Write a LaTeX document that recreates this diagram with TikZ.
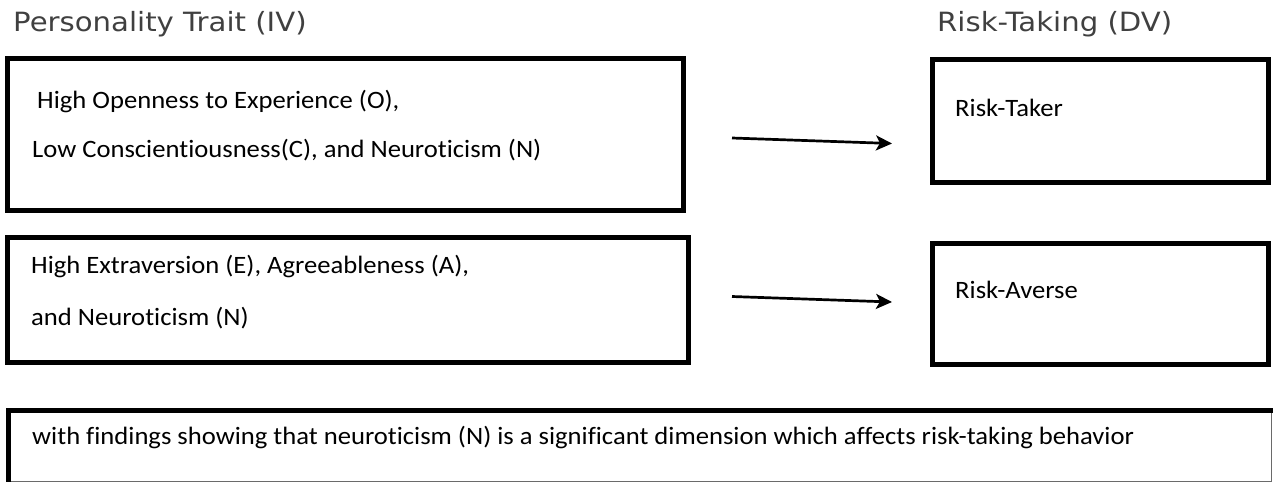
\documentclass[tikz,border=0pt]{standalone}
\usepackage{fontspec}
\setmainfont{Carlito}[Ligatures=CommonOff]
\newfontfamily\titlefont[FakeStretch=1.1]{DejaVu Sans}
\newfontfamily\bodyfont[FakeStretch=1.065, Ligatures=CommonOff]{Carlito}
\usetikzlibrary{arrows.meta}
\definecolor{titlegray}{HTML}{404040}
\definecolor{edgegray}{HTML}{6A6A6A}
\tikzset{
  box/.style={draw=black, line width=5pt, rectangle, inner sep=0pt, outer sep=0pt},
  txt/.style={anchor=base west, inner sep=0pt, font=\bodyfont\fontsize{25}{30}\selectfont, text=black},
  ttl/.style={anchor=base west, inner sep=0pt, font=\titlefont\fontsize{26.5}{31}\selectfont, text=titlegray},
  link/.style={line width=2.7pt, -{Stealth[length=16pt, width=15pt, inset=4pt]}},
}
\begin{document}
\begin{tikzpicture}[x=1pt,y=-1pt]
\useasboundingbox (0,0) rectangle (1273,483);
% titles
\node[ttl] (t1) at (13,31) {Personality Trait (IV)};
\node[ttl] (t2) at (937,31) {Risk-Taking (DV)};
% boxes
\node[box, minimum width=676pt, minimum height=152pt] (b1) at (345.5,134.5) {};
\node[box, minimum width=336pt, minimum height=123pt] (rt) at (1100.5,121) {};
\node[box, minimum width=681pt, minimum height=125pt] (b2) at (348,300) {};
\node[box, minimum width=336pt, minimum height=121pt] (ra) at (1100.5,304) {};
\node[rectangle, inner sep=0pt, outer sep=0pt, minimum width=1263pt, minimum height=71pt] (b5) at (640,446) {};
\draw[edgegray, line width=1.3pt] (b5.north east) -- (b5.south east) -- (b5.south west);
\draw[black, line width=5pt] (b5.south west) -- (b5.north west) -- ([xshift=2pt]b5.north east);
% texts
\node[txt] (l1a) at (37,108) {High Openness to Experience (O),};
\node[txt] (l1b) at (32,157.5) {Low Conscientiousness(C), and Neuroticism (N)};
\node[txt] (l2a) at (31,273) {High Extraversion (E), Agreeableness (A),};
\node[txt] (l2b) at (31,325) {and Neuroticism (N)};
\node[txt] (lrt) at (955,116.5) {Risk-Taker};
\node[txt] (lra) at (955,298) {Risk-Averse};
\node[txt] (l5) at (32,444) {with findings showing that neuroticism (N) is a significant dimension which affects risk-taking behavior};
% arrows
\coordinate (a1s) at (732,138);
\coordinate (a1e) at (892,143.5);
\coordinate (a2s) at (732,296.5);
\coordinate (a2e) at (892,302);
\draw[link] (a1s) -- (a1e);
\draw[link] (a2s) -- (a2e);
\end{tikzpicture}
\end{document}
